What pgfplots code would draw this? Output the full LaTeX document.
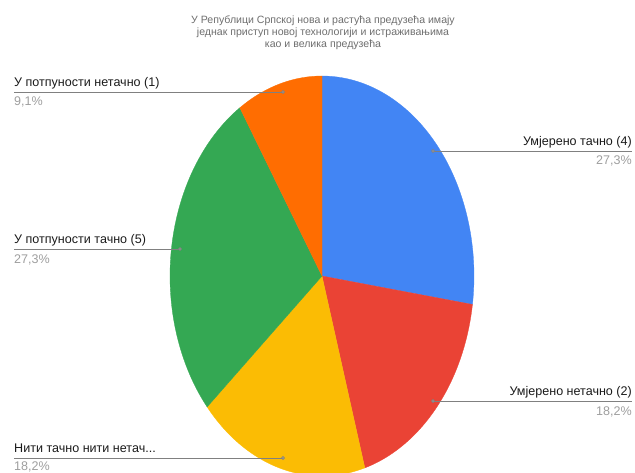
\documentclass[border=0pt]{standalone}
\usepackage{pgfplots}
\pgfplotsset{compat=1.18}
\usepackage{pgfplotstable}
\usepackage{fontspec}
\setmainfont{Liberation Sans}
\definecolor{gblue}{HTML}{4285F4}
\definecolor{gred}{HTML}{EA4335}
\definecolor{gyellow}{HTML}{FBBC04}
\definecolor{ggreen}{HTML}{34A853}
\definecolor{gorange}{HTML}{FF6D01}
\definecolor{leader}{HTML}{808080}
\definecolor{lbl}{HTML}{1A1A1A}
\definecolor{pct}{HTML}{9E9E9E}
\definecolor{ttl}{HTML}{6E6E6E}
% slices in drawing order (clockwise from 12 o'clock)
\pgfplotstableread{
value
27.3
18.2
18.2
27.3
9.1
}\piedata
\pgfplotstablegetelem{0}{value}\of\piedata\edef\vA{\pgfplotsretval}
\pgfplotstablegetelem{1}{value}\of\piedata\edef\vB{\pgfplotsretval}
\pgfplotstablegetelem{2}{value}\of\piedata\edef\vC{\pgfplotsretval}
\pgfplotstablegetelem{3}{value}\of\piedata\edef\vD{\pgfplotsretval}
\pgfplotstablegetelem{4}{value}\of\piedata\edef\vE{\pgfplotsretval}
\pgfmathsetmacro\tot{\vA+\vB+\vC+\vD+\vE}
\pgfmathsetmacro\aA{90}
\pgfmathsetmacro\aB{\aA-360*\vA/\tot}
\pgfmathsetmacro\aC{\aB-360*\vB/\tot}
\pgfmathsetmacro\aD{\aC-360*\vC/\tot}
\pgfmathsetmacro\aE{\aD-360*\vD/\tot}
\pgfmathsetmacro\aF{\aE-360*\vE/\tot}
\newcommand\lblfont{\fontsize{12.6}{14}\selectfont}
\newcommand\ttlfont{\fontsize{10.6}{12}\selectfont}
\begin{document}
\begin{tikzpicture}
\begin{axis}[
  at={(0,0)}, anchor=south west,
  width=635bp, height=473bp, scale only axis,
  xmin=0, xmax=635, ymin=0, ymax=473, y dir=reverse,
  axis lines=none, clip=true,
]
\addplot[fill=gblue, draw=gblue, line width=0.3pt, domain=\aB:\aA, samples=90]
  ({322+152*cos(x)},{276-200*sin(x)}) -- (axis cs:322,276) -- cycle;
\addplot[fill=gred, draw=gred, line width=0.3pt, domain=\aC:\aB, samples=70]
  ({322+152*cos(x)},{276-200*sin(x)}) -- (axis cs:322,276) -- cycle;
\addplot[fill=gyellow, draw=gyellow, line width=0.3pt, domain=\aD:\aC, samples=70]
  ({322+152*cos(x)},{276-200*sin(x)}) -- (axis cs:322,276) -- cycle;
\addplot[fill=ggreen, draw=ggreen, line width=0.3pt, domain=\aE:\aD, samples=90]
  ({322+152*cos(x)},{276-200*sin(x)}) -- (axis cs:322,276) -- cycle;
\addplot[fill=gorange, draw=gorange, line width=0.3pt, domain=\aF:\aE, samples=40]
  ({322+152*cos(x)},{276-200*sin(x)}) -- (axis cs:322,276) -- cycle;
% leader lines
\pgfplotsset{leaderstyle/.style={color=leader, line width=0.8pt, mark=*, mark size=1.5pt, mark options={fill=leader!70, draw=none, opacity=0.8}}}
\addplot[leaderstyle, mark indices={2}] coordinates {(14,92) (283,92)};
\addplot[leaderstyle, mark indices={1}] coordinates {(433,151) (632,151)};
\addplot[leaderstyle, mark indices={2}] coordinates {(14,249) (180,249)};
\addplot[leaderstyle, mark indices={1}] coordinates {(433,401) (632,401)};
\addplot[leaderstyle, mark indices={2}] coordinates {(14,458) (283,458)};
% labels
\node[anchor=base west, text=lbl, font=\lblfont, inner sep=0pt] at (axis cs:14,87) {У потпуности нетачно (1)};
\node[anchor=base west, text=pct, font=\lblfont, inner sep=0pt] at (axis cs:14,105) {9,1\%};
\node[anchor=base east, text=lbl, font=\lblfont, inner sep=0pt] at (axis cs:632,145) {Умјерено тачно (4)};
\node[anchor=base east, text=pct, font=\lblfont, inner sep=0pt] at (axis cs:632,164) {27,3\%};
\node[anchor=base west, text=lbl, font=\lblfont, inner sep=0pt] at (axis cs:14,243) {У потпуности тачно (5)};
\node[anchor=base west, text=pct, font=\lblfont, inner sep=0pt] at (axis cs:14,263) {27,3\%};
\node[anchor=base east, text=lbl, font=\lblfont, inner sep=0pt] at (axis cs:632,395) {Умјерено нетачно (2)};
\node[anchor=base east, text=pct, font=\lblfont, inner sep=0pt] at (axis cs:632,415) {18,2\%};
\node[anchor=base west, text=lbl, font=\lblfont, inner sep=0pt] at (axis cs:14,452) {Нити тачно нити нетач...};
\node[anchor=base west, text=pct, font=\lblfont, inner sep=0pt] at (axis cs:14,470) {18,2\%};
% title
\node[anchor=base, text=ttl, font=\ttlfont, inner sep=0pt] at (axis cs:323,24) {У Републици Српској нова и растућа предузећа имају};
\node[anchor=base, text=ttl, font=\ttlfont, inner sep=0pt] at (axis cs:323,36) {једнак приступ новој технологији и истраживањима};
\node[anchor=base, text=ttl, font=\ttlfont, inner sep=0pt] at (axis cs:323,48) {као и велика предузећа};
\end{axis}
\pgfresetboundingbox
\path[use as bounding box] (0,0) rectangle (635bp,473bp);
\end{tikzpicture}
\end{document}
